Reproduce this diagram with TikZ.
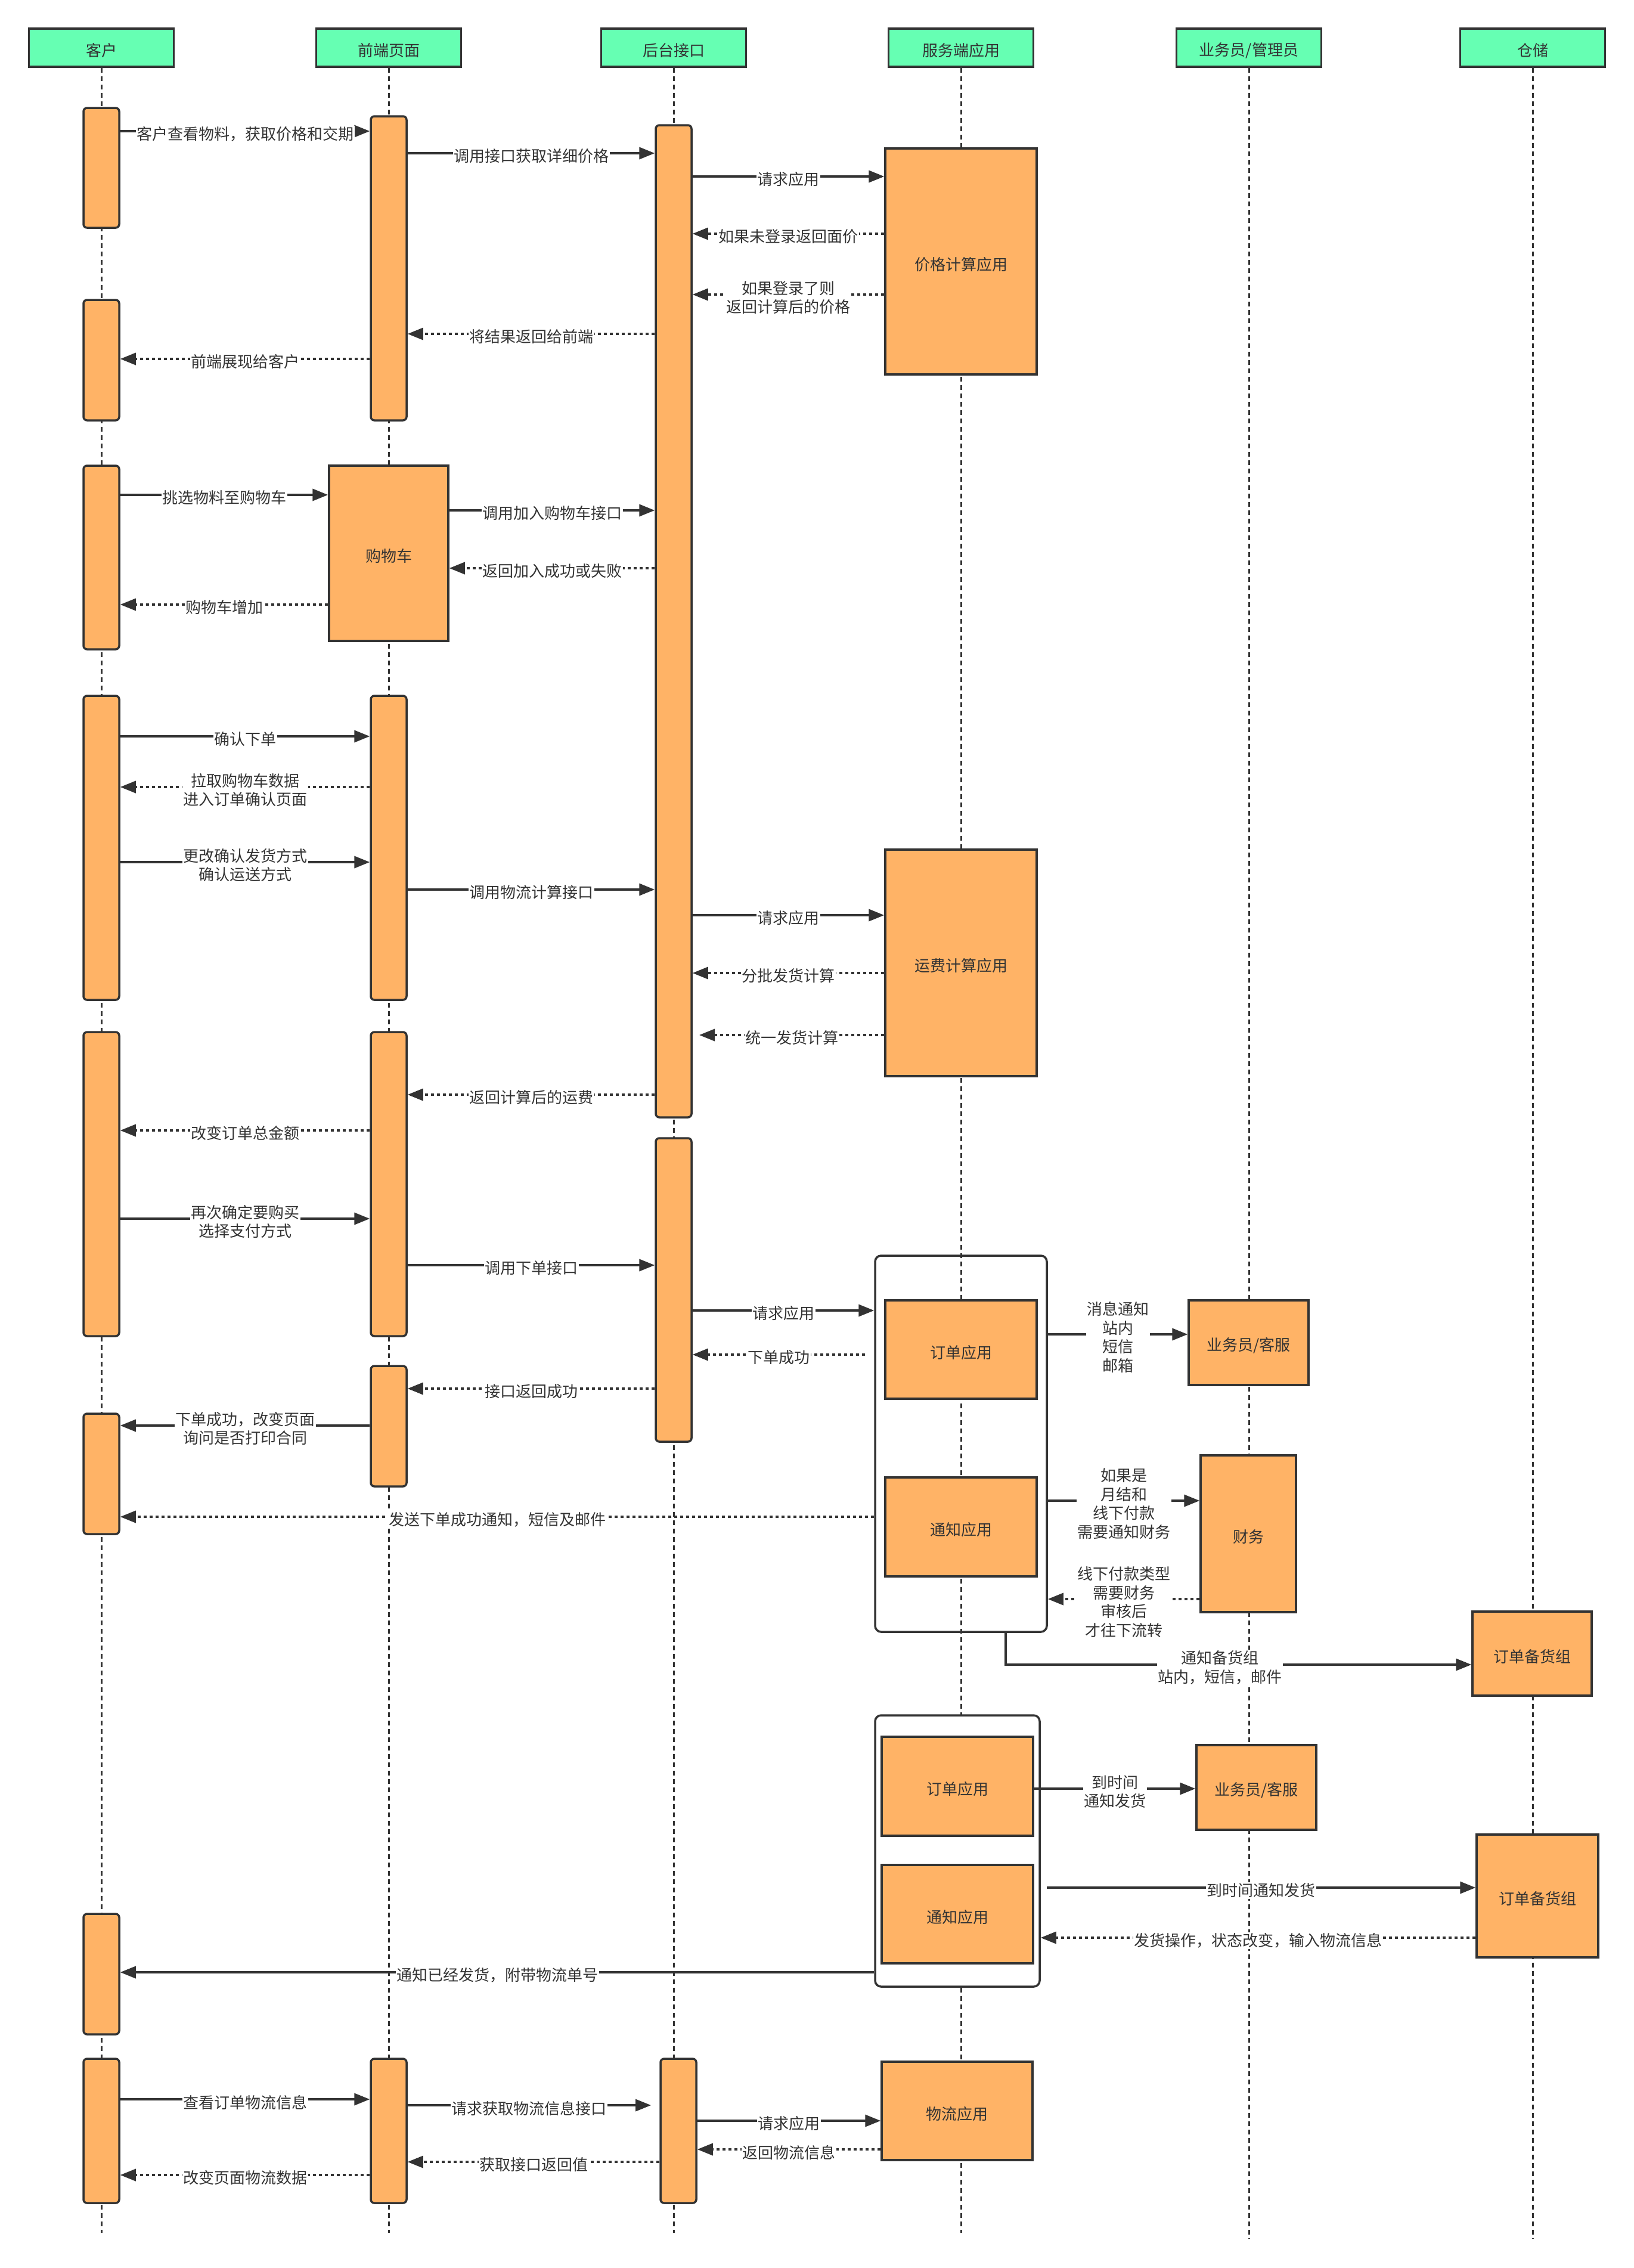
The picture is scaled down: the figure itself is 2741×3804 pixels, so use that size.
\documentclass[tikz,border=0pt]{standalone}
\usepackage{fontspec}
\setmainfont{Noto Sans CJK SC}
\usetikzlibrary{arrows.meta}
\definecolor{dk}{HTML}{333333}
\definecolor{org}{HTML}{FFB366}
\definecolor{grn}{HTML}{66FFB3}
\newcommand{\dn}[1]{\raisebox{-5pt}[\height][\depth]{#1}}
\begin{document}
\begin{tikzpicture}[x=1pt,y=-1pt,
  every node/.style={font=\fontsize{26}{31.5}\selectfont, text=dk},
  head/.style={draw=dk, fill=grn, line width=3.5pt, minimum width=243pt, minimum height=64pt, inner sep=0pt},
  life/.style={draw=dk, line width=3pt, dash pattern=on 8pt off 6pt},
  bar/.style={draw=dk, fill=org, line width=3.5pt, rounded corners=6pt, minimum width=60pt, inner sep=0pt},
  box/.style={draw=dk, fill=org, line width=3.5pt, inner sep=0pt},
  cont/.style={draw=dk, line width=3.5pt, rounded corners=10pt, inner sep=0pt},
  msg/.style={draw=dk, line width=3.5pt, -{Triangle[length=26pt,width=20pt]}},
  ret/.style={msg, dash pattern=on 5pt off 5pt},
  lbl/.style={fill=white, inner sep=1.5pt, align=center, yshift=-5pt},
]
\fill[white] (0,0) rectangle (2741,3804);
\useasboundingbox (0,0) rectangle (2741,3804);

% headers
\node[head] (hC) at (170,80) {\dn{客户}};
\node[head] (hF) at (652,80) {\dn{前端页面}};
\node[head] (hB) at (1130,80) {\dn{后台接口}};
\node[head] (hS) at (1612,80) {\dn{服务端应用}};
\node[head] (hM) at (2095,80) {\dn{业务员/管理员}};
\node[head] (hW) at (2571,80) {\dn{仓储}};

% lifeline ends
\coordinate (eC) at (170,3745);
\coordinate (eF) at (652,3745);
\coordinate (eB) at (1130,3745);
\coordinate (eS) at (1612,3745);
\coordinate (eM) at (2095,3755);
\coordinate (eW) at (2571,3755);
\draw[life] (hC.south) -- (eC);
\draw[life] (hF.south) -- (eF);
\draw[life] (hB.south) -- (eB);
\draw[life] (hS.south) -- (eS);
\draw[life] (hM.south) -- (eM);
\draw[life] (hW.south) -- (eW);

% client bars
\node[bar, minimum height=201pt] (c1) at (170,281.5) {};
\node[bar, minimum height=202pt] (c2) at (170,604) {};
\node[bar, minimum height=308pt] (c3) at (170,935) {};
\node[bar, minimum height=510pt] (c4) at (170,1422) {};
\node[bar, minimum height=510pt] (c5) at (170,1986) {};
\node[bar, minimum height=202pt] (c6) at (170,2472) {};
\node[bar, minimum height=202pt] (c7) at (170,3311) {};
\node[bar, minimum height=242pt] (c8) at (170,3574) {};

% front bars
\node[bar, minimum height=510pt] (f1) at (652,450) {};
\node[box, minimum width=200pt, minimum height=294pt] (cart) at (652,928) {\dn{购物车}};
\node[bar, minimum height=510pt] (f2) at (652,1422) {};
\node[bar, minimum height=510pt] (f3) at (652,1986) {};
\node[bar, minimum height=202pt] (f4) at (652,2392) {};
\node[bar, minimum height=242pt] (f5) at (652,3574) {};

% back bars
\node[bar, minimum height=1664pt] (b1) at (1130,1042) {};
\node[bar, minimum height=509pt] (b2) at (1130,2163.5) {};
\node[bar, minimum height=242pt] (b3) at (1138,3574) {};

% service boxes
\node[box, minimum width=254pt, minimum height=379pt] (price) at (1612,438.5) {\dn{价格计算应用}};
\node[box, minimum width=254pt, minimum height=380pt] (frt) at (1612,1615) {\dn{运费计算应用}};
\node[cont, minimum width=288pt, minimum height=631pt] (cont1) at (1612,2421.5) {};
\node[box, minimum width=254pt, minimum height=165pt] (ord1) at (1612,2263.5) {\dn{订单应用}};
\node[box, minimum width=254pt, minimum height=166pt] (ntf1) at (1612,2561) {\dn{通知应用}};
\node[cont, fill=white, minimum width=276pt, minimum height=455pt] (cont2) at (1606,3104.5) {};
\node[box, minimum width=254pt, minimum height=166pt] (ord2) at (1606,2996) {\dn{订单应用}};
\node[box, minimum width=254pt, minimum height=165pt] (ntf2) at (1606,3210.5) {\dn{通知应用}};
\node[box, minimum width=253pt, minimum height=165pt] (logi) at (1605.5,3540.5) {\dn{物流应用}};

% staff / finance / warehouse
\node[box, minimum width=201pt, minimum height=142pt] (st1) at (2094.5,2252) {\dn{业务员/客服}};
\node[box, minimum width=160pt, minimum height=263pt] (fin) at (2094,2572.5) {\dn{财务}};
\node[box, minimum width=201pt, minimum height=142pt] (st2) at (2107.5,2998) {\dn{业务员/客服}};
\node[box, minimum width=200pt, minimum height=141pt] (wh1) at (2570,2773.5) {\dn{订单备货组}};
\node[box, minimum width=204pt, minimum height=206pt] (wh2) at (2579,3180) {\dn{订单备货组}};

% free ends
\coordinate (t18) at (1173,1736);
\coordinate (s24) at (1451,2272);
\coordinate (s33) at (1756,3166);
\coordinate (t37) at (1092,3531);

% messages
\draw[msg] (c1.east |- 0,220) -- node[lbl]{客户查看物料，获取价格和交期} (f1.west |- 0,220);
\draw[msg] (f1.east |- 0,257) -- node[lbl]{调用接口获取详细价格} (b1.west |- 0,257);
\draw[msg] (b1.east |- 0,296) -- node[lbl]{请求应用} (price.west |- 0,296);
\draw[ret] (price.west |- 0,392) -- node[lbl]{如果未登录返回面价} (b1.east |- 0,392);
\draw[ret] (price.west |- 0,494) -- node[lbl]{如果登录了则\\返回计算后的价格} (b1.east |- 0,494);
\draw[ret] (b1.west |- 0,560) -- node[lbl]{将结果返回给前端} (f1.east |- 0,560);
\draw[ret] (f1.west |- 0,602) -- node[lbl]{前端展现给客户} (c2.east |- 0,602);
\draw[msg] (c3.east |- 0,830) -- node[lbl]{挑选物料至购物车} (cart.west |- 0,830);
\draw[msg] (cart.east |- 0,856) -- node[lbl]{调用加入购物车接口} (b1.west |- 0,856);
\draw[ret] (b1.west |- 0,953) -- node[lbl]{返回加入成功或失败} (cart.east |- 0,953);
\draw[ret] (cart.west |- 0,1014) -- node[lbl]{购物车增加} (c3.east |- 0,1014);
\draw[msg] (c4.east |- 0,1235) -- node[lbl]{确认下单} (f2.west |- 0,1235);
\draw[ret] (f2.west |- 0,1320) -- node[lbl]{拉取购物车数据\\进入订单确认页面} (c4.east |- 0,1320);
\draw[msg] (c4.east |- 0,1446) -- node[lbl]{更改确认发货方式\\确认运送方式} (f2.west |- 0,1446);
\draw[msg] (f2.east |- 0,1492) -- node[lbl]{调用物流计算接口} (b1.west |- 0,1492);
\draw[msg] (b1.east |- 0,1535) -- node[lbl]{请求应用} (frt.west |- 0,1535);
\draw[ret] (frt.west |- 0,1632) -- node[lbl]{分批发货计算} (b1.east |- 0,1632);
\draw[ret] (frt.west |- 0,1736) -- node[lbl]{统一发货计算} (t18);
\draw[ret] (b1.west |- 0,1836) -- node[lbl]{返回计算后的运费} (f3.east |- 0,1836);
\draw[ret] (f3.west |- 0,1896) -- node[lbl]{改变订单总金额} (c5.east |- 0,1896);
\draw[msg] (c5.east |- 0,2044) -- node[lbl]{再次确定要购买\\选择支付方式} (f3.west |- 0,2044);
\draw[msg] (f3.east |- 0,2122) -- node[lbl]{调用下单接口} (b2.west |- 0,2122);
\draw[msg] (b2.east |- 0,2198) -- node[lbl]{请求应用} (cont1.west |- 0,2198);
\draw[ret] (s24) -- node[lbl]{下单成功} (b2.east |- 0,2272);
\draw[ret] (b2.west |- 0,2329) -- node[lbl]{接口返回成功} (f4.east |- 0,2329);
\draw[msg] (f4.west |- 0,2391) -- node[lbl]{下单成功，改变页面\\询问是否打印合同} (c6.east |- 0,2391);
\draw[ret] (cont1.west |- 0,2544) -- node[lbl]{发送下单成功通知，短信及邮件} (c6.east |- 0,2544);
\draw[msg] (cont1.east |- 0,2238) -- node[lbl]{消息通知\\站内\\短信\\邮箱} (st1.west |- 0,2238);
\draw[msg] (cont1.east |- 0,2517) -- node[lbl]{如果是\\月结和\\线下付款\\需要通知财务} (fin.west |- 0,2517);
\draw[ret] (fin.west |- 0,2682) -- node[lbl]{线下付款类型\\需要财务\\审核后\\才往下流转} (cont1.east |- 0,2682);
\draw[msg] (cont1.south -| 1687,0) |- node[lbl,pos=0.73]{通知备货组\\站内，短信，邮件} (wh1.west |- 0,2792);
\draw[msg] (ord2.east |- 0,3000) -- node[lbl]{到时间\\通知发货} (st2.west |- 0,3000);
\draw[msg] (s33) -- node[lbl]{到时间通知发货} (wh2.west |- 0,3166);
\draw[ret] (wh2.west |- 0,3250) -- node[lbl]{发货操作，状态改变，输入物流信息} (cont2.east |- 0,3250);
\draw[msg] (cont2.west |- 0,3308) -- node[lbl]{通知已经发货，附带物流单号} (c7.east |- 0,3308);
\draw[msg] (c8.east |- 0,3521) -- node[lbl]{查看订单物流信息} (f5.west |- 0,3521);
\draw[msg] (f5.east |- 0,3531) -- node[lbl]{请求获取物流信息接口} (t37);
\draw[msg] (b3.east |- 0,3557) -- node[lbl]{请求应用} (logi.west |- 0,3557);
\draw[ret] (logi.west |- 0,3605) -- node[lbl]{返回物流信息} (b3.east |- 0,3605);
\draw[ret] (b3.west |- 0,3626) -- node[lbl]{获取接口返回值} (f5.east |- 0,3626);
\draw[ret] (f5.west |- 0,3648) -- node[lbl]{改变页面物流数据} (c8.east |- 0,3648);
\end{tikzpicture}
\end{document}
